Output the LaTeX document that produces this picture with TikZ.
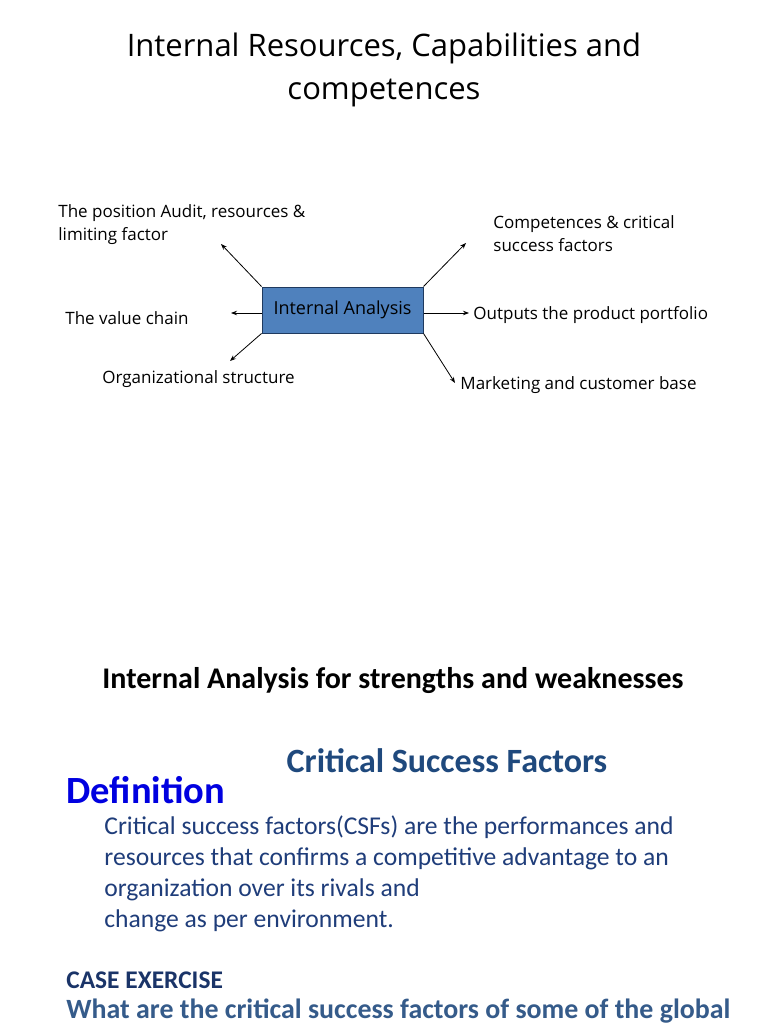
\documentclass[tikz,border=0pt]{standalone}
\usepackage{fontspec}
\setmainfont{Carlito}
\newfontfamily\handfont{Open Sans}
\usetikzlibrary{arrows.meta,positioning}

\definecolor{boxblue}{HTML}{4F81BD}
\definecolor{boxline}{HTML}{1F3A5F}
\definecolor{csfblue}{HTML}{1F497D}
\definecolor{defblue}{HTML}{0000E0}
\definecolor{bodynavy}{HTML}{1F3D7A}

\begin{document}
\begin{tikzpicture}[x=1pt, y=-1pt, line width=0.8pt,
                hand/.style={font=\handfont\fontsize{17}{23}\selectfont, inner sep=0pt, align=left},
                spoke/.style={-{Stealth[length=6pt,width=4.5pt]}},
                centrebox/.style={draw=boxline, fill=boxblue, line width=1pt,
                    minimum width=161pt, minimum height=46pt, inner sep=0pt},
                slidetext/.style={inner sep=0pt, align=left}
            ]

% --- page ---
                \useasboundingbox[fill=white] (0,0) rectangle (768,1024);

% --- title ---
                \node[font=\handfont\fontsize{31}{43}\selectfont, align=center, inner sep=0pt]
                    (title) at (384,70) {Internal Resources, Capabilities and\\competences};

% --- centre box ---
                \node[centrebox] (ia) at (342.5,310) {};
                \node[hand, font=\handfont\fontsize{18}{23}\selectfont] (ialabel) at (342.5,310) {Internal Analysis};

% --- arrow ends ---
                \coordinate (pTL) at (221,244);
                \coordinate (pL)  at (231,313);
                \coordinate (pBL) at (230,361);
                \coordinate (pTR) at (466,243);
                \coordinate (pR)  at (469,313);
                \coordinate (pBR) at (455,383);

% --- spokes ---
                \draw[spoke] (ia.north west) -- (pTL);
                \draw[spoke] (ia.west |- pL) -- (pL);
                \draw[spoke] (ia.south west) -- (pBL);
                \draw[spoke] (ia.north east) -- (pTR);
                \draw[spoke] (ia.east |- pR) -- (pR);
                \draw[spoke] (ia.south east) -- (pBR);

% --- spoke labels ---
                \node[hand, anchor=west] (audit) at (58,225) {The position Audit, resources \&\\limiting factor};
                \node[hand, anchor=west] (csf)   at (493,234) {Competences \& critical\\success factors};
                \node[hand, anchor=west] (chain) at (65,318) {The value chain};
                \node[hand, anchor=west] (port)  at (473,315) {Outputs the product portfolio};
                \node[hand, anchor=west] (org)   at (102,379) {Organizational structure};
                \node[hand, anchor=west] (mkt)   at (460,385) {Marketing and customer base};

% --- lower text ---
                \node[slidetext, font=\bfseries\fontsize{30}{34}\selectfont]
                    (sw) at (393,681) {Internal Analysis for strengths and weaknesses};
                \node[slidetext, font=\bfseries\fontsize{34}{38}\selectfont, text=csfblue]
                    (csfhead) at (447,761) {Critical Success Factors};
                \node[slidetext, anchor=west, font=\bfseries\fontsize{38.5}{44}\selectfont, text=defblue]
                    (defn) at (66,790) {Definition};
                \node[slidetext, anchor=base west, font=\fontsize{25.6}{30.7}\selectfont, text=bodynavy]
                    (body) at (104,927) {Critical success factors(CSFs) are the performances and\\
                        resources that confirms a competitive advantage to an\\
                        organization over its rivals and\\
                        change as per environment.};
                \node[slidetext, anchor=west, font=\bfseries\fontsize{25.4}{30}\selectfont, text=bodynavy!85!black]
                    (case) at (66,980) {CASE EXERCISE};
                \node[slidetext, anchor=west, font=\bfseries\fontsize{27.9}{32}\selectfont, text=csfblue!90!white]
                    (quest) at (66,1011) {What are the critical success factors of some of the global};

            \end{tikzpicture}
\end{document}
